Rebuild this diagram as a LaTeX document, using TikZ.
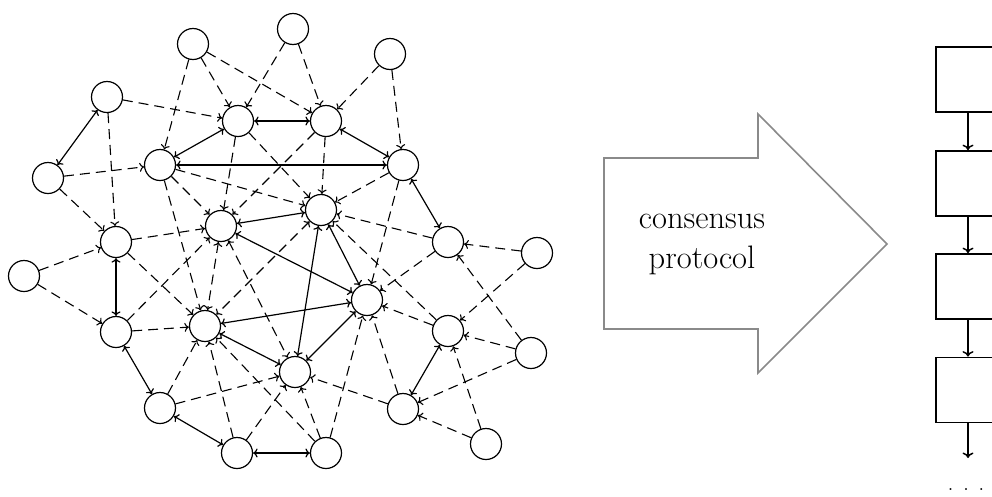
\documentclass[tikz,border=0pt]{standalone}
\usetikzlibrary{arrows.meta}
\definecolor{shaftgray}{RGB}{138,138,138}
\begin{document}
\begin{tikzpicture}[x=1pt,y=-1pt,
  peer/.style={circle,draw,line width=1.2pt,minimum size=31pt,inner sep=0pt},
  link/.style={line width=1.2pt,{To[length=4.5pt,width=9pt]}-{To[length=4.5pt,width=9pt]}},
  msg/.style={line width=1.1pt,dash pattern=on 10pt off 6pt,-{To[length=4.5pt,width=9pt]}},
  msgboth/.style={line width=1.1pt,dash pattern=on 10pt off 6pt,{To[length=4.5pt,width=9pt]}-{To[length=4.5pt,width=9pt]}},
  block/.style={rectangle,draw,line width=1.8pt,minimum width=64pt,minimum height=65pt,inner sep=0pt},
  chain/.style={line width=1.5pt,-{To[length=5.5pt,width=11pt]}},
  label/.style={font=\fontsize{32.5}{40}\selectfont,inner sep=0pt}
]
\useasboundingbox (0,0) rectangle (992,496);
\clip (0,0) rectangle (992,496);

% peers of the network
\node[peer] (A) at (193,44) {};
\node[peer] (B) at (293,29) {};
\node[peer] (C) at (390,54) {};
\node[peer] (D) at (107,97) {};
\node[peer] (E) at (238,121) {};
\node[peer] (F) at (326,121) {};
\node[peer] (G) at (160,165) {};
\node[peer] (H) at (403,165) {};
\node[peer] (I) at (48,178) {};
\node[peer] (J) at (321,210) {};
\node[peer] (K) at (221,226) {};
\node[peer] (L) at (116,242) {};
\node[peer] (M) at (448,242) {};
\node[peer] (N) at (537,253) {};
\node[peer] (O) at (24,276) {};
\node[peer] (P) at (367,300) {};
\node[peer] (Q) at (116,332) {};
\node[peer] (R) at (205,326) {};
\node[peer] (S) at (448,331) {};
\node[peer] (T) at (531,353) {};
\node[peer] (U) at (295,372) {};
\node[peer] (V) at (160,408) {};
\node[peer] (W) at (403,409) {};
\node[peer] (X) at (486,444) {};
\node[peer] (Y) at (237,453) {};
\node[peer] (Z) at (326,453) {};

% two-way links
\foreach \a/\b in {I/D,G/E,E/F,G/H,F/H,H/M,L/Q,Q/V,V/Y,Y/Z,W/S,
                   K/J,K/P,J/P,J/U,R/P,R/U,U/P}
  \draw[link] (\a) -- (\b);

% one-way messages
\foreach \a/\b in {A/G,A/E,A/F,B/E,B/F,C/F,C/H,D/E,D/L,I/G,I/L,O/L,O/Q,
                   N/M,N/S,T/S,T/W,T/M,X/W,X/S,
                   E/K,E/J,F/K,F/J,G/K,G/J,G/R,H/J,H/P,M/J,M/P,
                   L/K,L/R,Q/K,Q/R,V/R,V/U,Y/R,Y/U,Z/U,Z/P,Z/R,
                   W/P,W/U,S/P,S/J}
  \draw[msg] (\a) -- (\b);

% messages in both directions
\foreach \a/\b in {K/R,K/U,J/R}
  \draw[msgboth] (\a) -- (\b);

% the protocol arrow
\draw[shaftgray,line width=1.6pt,line join=miter]
  (604,158) -- (758,158) -- (758,114) -- (887,244) -- (758,373)
  -- (758,329) -- (604,329) -- cycle;
\node[label,anchor=base] (word1) at (702,228) {consensus};
\node[label,anchor=base] (word2) at (702,268) {protocol};

% resulting chain of blocks
\node[block] (b1) at (968,79.5) {};
\node[block] (b2) at (968,183.5) {};
\node[block] (b3) at (968,286.5) {};
\node[block] (b4) at (968,390) {};
\coordinate (bend) at (968,458);
\draw[chain] (b1) -- (b2);
\draw[chain] (b2) -- (b3);
\draw[chain] (b3) -- (b4);
\draw[chain] (b4) -- (bend);
\node[font=\fontsize{24}{24}\selectfont,inner sep=0pt,anchor=base] (more) at (966,490)
  {.\kern 9.3pt.\kern 9.3pt.};
\end{tikzpicture}
\end{document}
